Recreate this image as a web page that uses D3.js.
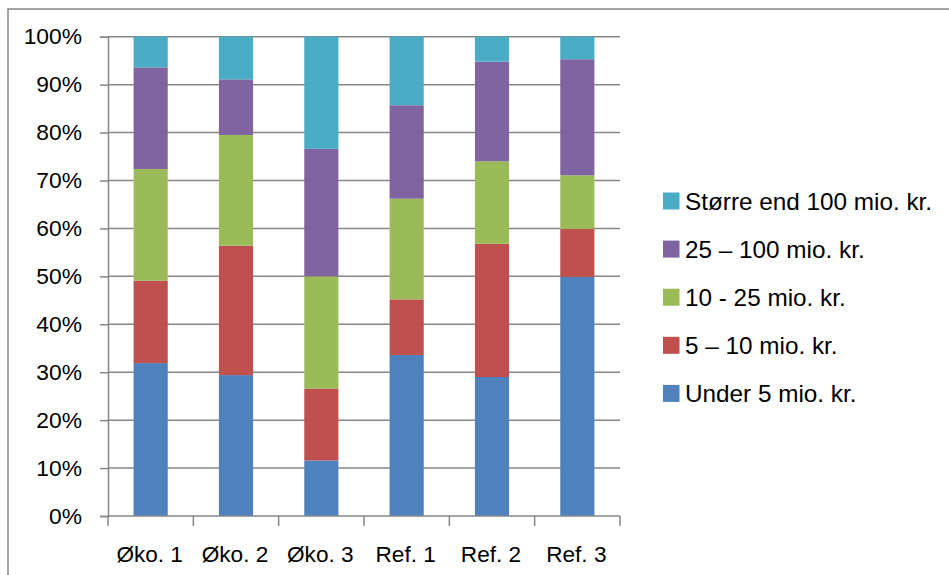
<!DOCTYPE html>
<html>
<head>
<meta charset="utf-8">
<script src="https://cdn.jsdelivr.net/npm/d3@7"></script>
<style>
  html, body { margin: 0; padding: 0; background: #fff; }
  svg { display: block; font-family: "Liberation Sans", Arial, sans-serif; }
</style>
</head>
<body>
<svg id="chart" width="949" height="575"></svg>
<script>
// Company size distribution (share of revenue class) per farm group
const categories = ["Øko. 1", "Øko. 2", "Øko. 3", "Ref. 1", "Ref. 2", "Ref. 3"];
const seriesNames = ["Under 5 mio. kr.", "5 – 10 mio. kr.", "10 - 25 mio. kr.", "25 – 100 mio. kr.", "Større end 100 mio. kr."];
const under5   = [31.9, 29.4, 11.6, 33.6, 29.0, 49.9];
const from5to10 = [17.2, 27.0, 15.0, 11.6, 27.8, 10.0];
const from10to25 = [23.3, 23.1, 23.4, 21.0, 17.2, 11.2];
const from25to100 = [21.2, 11.6, 26.6, 19.5, 20.8, 24.2];
const over100  = [6.4, 8.9, 23.4, 14.3, 5.2, 4.7];
const yTicks = [0, 10, 20, 30, 40, 50, 60, 70, 80, 90, 100];
const colors = ["#4F81BD", "#C0504D", "#9BBB59", "#8064A2", "#4BACC6"];

const seriesValues = [under5, from5to10, from10to25, from25to100, over100];
const rows = categories.map((c, i) => {
  const r = { cat: c };
  seriesNames.forEach((s, k) => { r[s] = seriesValues[k][i]; });
  return r;
});
const stacked = d3.stack().keys(seriesNames)(rows);

const svg = d3.select("#chart");
const plotLeft = 108, plotRight = 620, plotTop = 36.7, plotBottom = 516;

const x = d3.scaleBand().domain(categories).range([plotLeft, plotRight])
  .paddingInner(0.6).paddingOuter(0.3);
const y = d3.scaleLinear().domain([0, 100]).range([plotBottom, plotTop]);
const grey = "#878787";

// outer frame
svg.append("rect").attr("x", 8).attr("y", 9).attr("width", 1000).attr("height", 700)
  .attr("fill", "none").attr("stroke", grey).attr("stroke-width", 1.5);

// horizontal gridlines
svg.append("g").selectAll("line").data(yTicks.filter(d => d > 0)).join("line")
  .attr("x1", plotLeft).attr("x2", plotRight)
  .attr("y1", d => y(d)).attr("y2", d => y(d))
  .attr("stroke", grey).attr("stroke-width", 1.5);

// stacked bars
svg.append("g").selectAll("g").data(stacked).join("g")
  .attr("fill", (d, i) => colors[i])
  .selectAll("rect").data(d => d).join("rect")
  .attr("x", d => x(d.data.cat))
  .attr("width", x.bandwidth())
  .attr("y", d => y(d[1]))
  .attr("height", d => y(d[0]) - y(d[1]));

// y axis
const yAxis = svg.append("g").attr("transform", `translate(${plotLeft},0)`)
  .call(d3.axisLeft(y).tickValues(yTicks).tickFormat(d => d + "%").tickSize(8).tickPadding(18));
yAxis.select(".domain").attr("stroke", grey).attr("stroke-width", 1.5);
yAxis.selectAll(".tick line").attr("stroke", grey).attr("stroke-width", 1.5);
yAxis.selectAll(".tick text").attr("font-size", 22.8).attr("fill", "#000")
  .attr("font-family", "Liberation Sans, Arial, sans-serif");

// x axis: baseline with ticks between categories
const xAxis = svg.append("g");
xAxis.append("line").attr("x1", plotLeft).attr("x2", plotRight).attr("y1", plotBottom).attr("y2", plotBottom)
  .attr("stroke", grey).attr("stroke-width", 1.5);
const step = x.step();
const bounds = d3.range(categories.length + 1).map(i => plotLeft + i * step);
xAxis.selectAll("line.tk").data(bounds).join("line").attr("class", "tk")
  .attr("x1", d => d).attr("x2", d => d).attr("y1", plotBottom).attr("y2", plotBottom + 10)
  .attr("stroke", grey).attr("stroke-width", 1.5);
xAxis.selectAll("text").data(categories).join("text")
  .attr("x", d => x(d) + x.bandwidth() / 2 - 1)
  .attr("y", 561.5)
  .attr("text-anchor", "middle")
  .attr("font-size", 22.6)
  .attr("fill", "#000")
  .text(d => d);

// legend, largest class on top
const legendItems = seriesNames.map((s, i) => ({ name: s, color: colors[i] })).reverse();
const lg = svg.append("g").selectAll("g").data(legendItems).join("g")
  .attr("transform", (d, i) => `translate(663, ${201 + i * 48.1})`);
lg.append("rect").attr("x", 0).attr("y", -8.5).attr("width", 16.5).attr("height", 17)
  .attr("fill", d => d.color);
lg.append("text").attr("x", 22).attr("y", 8.8).attr("font-size", 24.3).attr("fill", "#000")
  .text(d => d.name);
</script>
</body>
</html>
